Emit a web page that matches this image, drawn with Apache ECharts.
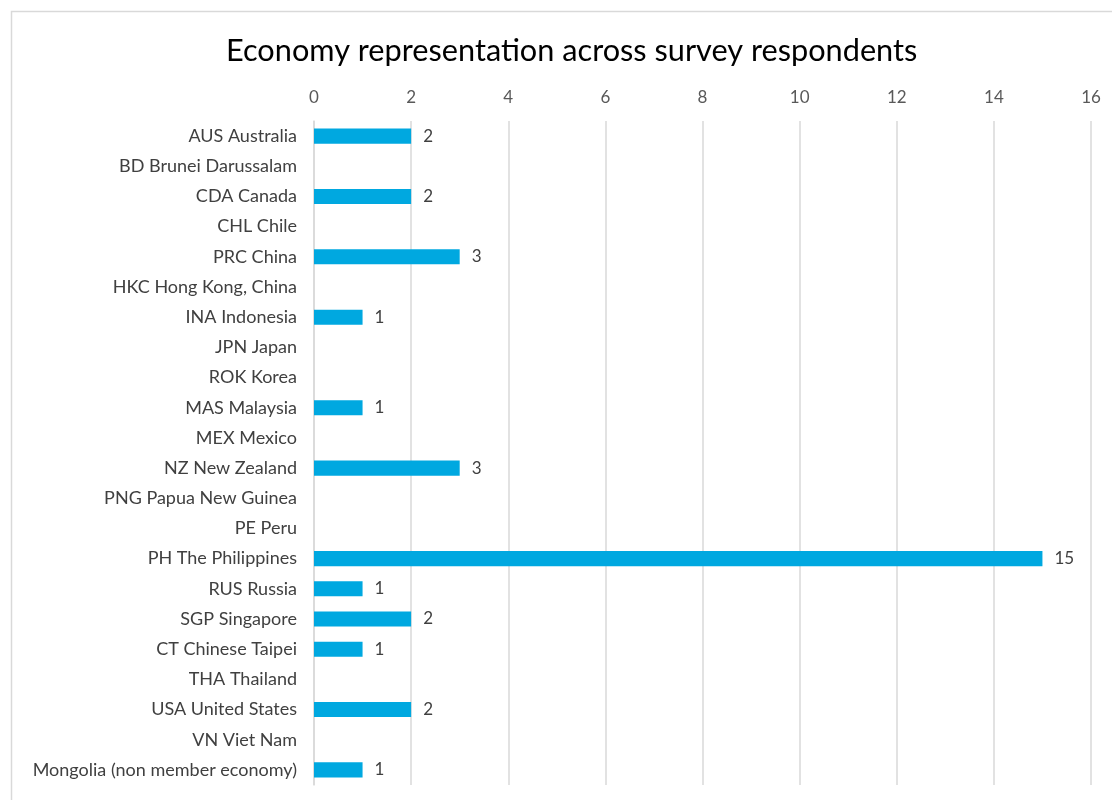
<!DOCTYPE html>
<html><head><meta charset="utf-8">
<script src="https://cdn.jsdelivr.net/npm/echarts@6/dist/echarts.min.js"></script>
<style>html,body{margin:0;padding:0;background:#fff}#c{width:1112px;height:800px}</style>
</head><body><div id="c"></div>
<script>
const categories = ["AUS Australia","BD Brunei Darussalam","CDA Canada","CHL Chile","PRC China","HKC Hong Kong, China","INA Indonesia","JPN Japan","ROK Korea","MAS Malaysia","MEX Mexico","NZ New Zealand","PNG Papua New Guinea","PE Peru","PH The Philippines","RUS Russia","SGP Singapore","CT Chinese Taipei","THA Thailand","USA United States","VN Viet Nam","Mongolia (non member economy)"];
const values = [2,null,2,null,3,null,1,null,null,1,null,3,null,null,15,1,2,1,null,2,null,1];
const chart = echarts.init(document.getElementById('c'));
const font = 'Lato, "Open Sans", sans-serif';
chart.setOption({
  animation:false,
  title:{text:'Economy representation across survey respondents',left:221,top:31,
    textStyle:{fontFamily:font,fontSize:30.7,fontWeight:'normal',color:'#000'}},
  graphic:[{type:'rect',shape:{x:11.5,y:11.5,width:1120,height:820},style:{fill:'none',stroke:'#d9d9d9',lineWidth:1.5}}],
  grid:{left:314,right:21,top:121,bottom:15,containLabel:false},
  xAxis:{type:'value',position:'top',min:0,max:16,interval:2,
    axisLine:{show:false},axisTick:{show:false},
    axisLabel:{fontFamily:font,fontSize:17,color:'#595959',margin:15},
    splitLine:{lineStyle:{color:'#d9d9d9',width:1.5}}},
  yAxis:{type:'category',data:categories,inverse:true,
    axisLine:{show:true,lineStyle:{color:'#d9d9d9',width:1.5}},axisTick:{show:false},
    axisLabel:{fontFamily:font,fontSize:18,color:'#404040',margin:17}},
  series:[{type:'bar',data:values,barWidth:'50%',itemStyle:{color:'#00a8e0'},
    label:{show:true,position:'right',distance:12,fontFamily:font,fontSize:17,color:'#404040'}}]
});
</script></body></html>
